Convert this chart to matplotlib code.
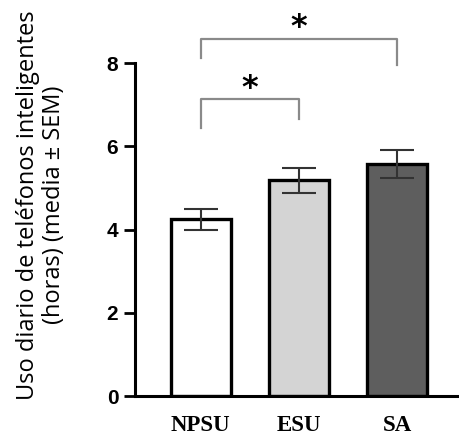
import matplotlib
matplotlib.use("Agg")
import matplotlib.pyplot as plt

categories = ["NPSU", "ESU", "SA"]
means = [4.25, 5.19, 5.58]
sems = [0.25, 0.30, 0.33]
colors = ["#ffffff", "#d4d4d4", "#5e5e5e"]
yticks = [0, 2, 4, 6, 8]

fig = plt.figure(figsize=(4.59, 4.41), dpi=100)
ax = fig.add_axes([0.294, 0.102, 0.704, 0.898])

x = list(range(len(categories)))
ax.bar(x, means, width=0.61, color=colors, edgecolor="black", linewidth=2.4, zorder=2)
ax.errorbar(x, means, yerr=sems, fmt="none", ecolor="#333333", elinewidth=1.5,
            capsize=12, capthick=1.5, zorder=3)

ax.set_xlim(-0.67, 2.62)
ax.set_ylim(0, 9.52)
ax.set_yticks(yticks)
ax.set_xticks(x)
ax.set_xticklabels(categories, fontfamily="Liberation Serif", fontweight="bold", fontsize=16.5)
for lab in ax.get_yticklabels():
    lab.set_fontfamily("Liberation Sans")
    lab.set_fontweight("bold")
    lab.set_fontsize(15)
ax.tick_params(axis="y", length=8, width=2.0, pad=4)
ax.tick_params(axis="x", length=0, pad=14)
ax.spines["top"].set_visible(False)
ax.spines["right"].set_visible(False)
ax.spines["left"].set_linewidth(2.2)
ax.spines["bottom"].set_linewidth(2.2)
ax.spines["left"].set_bounds(0, 8)

# significance brackets
def bracket(x1, x2, y, yl, yr, star_y):
    ax.plot([x1, x1, x2, x2], [yl, y, y, yr], color="#8a8a8a", lw=1.6,
            clip_on=False, zorder=4)
    ax.text((x1 + x2) / 2, star_y, "*", ha="center", va="center",
            fontsize=23, fontweight="bold", fontfamily="DejaVu Sans", clip_on=False)

bracket(0, 1, 7.14, 6.44, 6.66, 7.40)
bracket(0, 2, 8.58, 8.13, 7.96, 8.86)

fig.text(0.09, 0.535, "Uso diario de teléfonos inteligentes\n(horas) (media ± SEM)",
         rotation=90, ha="center", va="center", fontfamily="Open Sans",
         fontsize=17, linespacing=1.12)

fig.savefig("out.png", dpi=100)
